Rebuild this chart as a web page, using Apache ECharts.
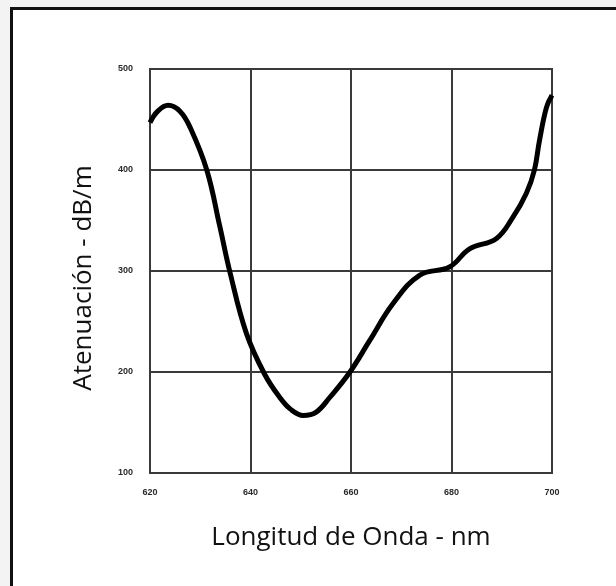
<!DOCTYPE html>
<html>
<head>
<meta charset="utf-8">
<script src="https://cdn.jsdelivr.net/npm/echarts@6/dist/echarts.min.js"></script>
<style>
  html, body { margin: 0; padding: 0; background: #f3f3f3; }
  #frame {
    position: absolute; left: 10px; top: 7px; width: 606px; height: 579px;
    background: #fff; border-left: 3px solid #111; border-top: 3px solid #111;
    box-sizing: border-box;
  }
  #chart { position: absolute; left: 0; top: 0; width: 616px; height: 586px; }
</style>
</head>
<body>
<div id="frame"></div>
<div id="chart"></div>
<script>
// wavelength (nm) and attenuation (dB/m)
const wavelength = [620, 621.5, 623.6, 626, 628, 631.3, 633.9, 635.9, 639.2, 642.9, 645.8, 648, 650.5, 653, 655.8, 659.8, 663.7, 668.4, 673.7, 679.6, 683.6, 688.9, 692.2, 694.9, 696.5, 697.5, 698.9, 700];
const attenuation = [447, 458, 464, 458, 442, 400, 344, 299, 238, 197, 175, 163, 157, 160, 175, 200, 231, 268, 296, 304, 322, 332, 353, 377, 400, 429, 462, 474];

const xTicks = [620, 640, 660, 680, 700];
const yTicks = [100, 200, 300, 400, 500];

const chart = echarts.init(document.getElementById('chart'), null, { renderer: 'canvas' });

const tickLabel = {
  fontSize: 9,
  fontWeight: 'bold',
  color: '#2a2a2a',
  fontFamily: 'Liberation Sans Narrow, Liberation Sans'
};

const option = {
  backgroundColor: 'transparent',
  animation: false,
  grid: {
    left: 150, right: 64, top: 69, bottom: 113,
    show: true, borderColor: '#3a3a3a', borderWidth: 2
  },
  xAxis: {
    type: 'value',
    min: xTicks[0], max: xTicks[xTicks.length - 1], interval: 20,
    name: 'Longitud de Onda - nm',
    nameLocation: 'middle',
    nameGap: 52,
    nameTextStyle: { fontSize: 26, color: '#111', fontFamily: 'Open Sans' },
    axisLine: { show: false },
    axisTick: { show: false },
    axisLabel: Object.assign({ margin: 15 }, tickLabel),
    splitLine: { lineStyle: { color: '#3a3a3a', width: 2 } }
  },
  yAxis: {
    type: 'value',
    min: yTicks[0], max: yTicks[yTicks.length - 1], interval: 100,
    name: 'Atenuación - dB/m',
    nameLocation: 'middle',
    nameGap: 53,
    nameRotate: 90,
    nameTextStyle: { fontSize: 26, color: '#111', fontFamily: 'Open Sans', padding: [0, 14, 0, 0] },
    axisLine: { show: false },
    axisTick: { show: false },
    axisLabel: Object.assign({ margin: 17 }, tickLabel),
    splitLine: { lineStyle: { color: '#3a3a3a', width: 2 } }
  },
  series: [{
    type: 'line',
    data: wavelength.map((w, i) => [w, attenuation[i]]),
    smooth: 0.4,
    showSymbol: false,
    lineStyle: { color: '#000', width: 5 }
  }]
};

chart.setOption(option);
</script>
</body>
</html>
